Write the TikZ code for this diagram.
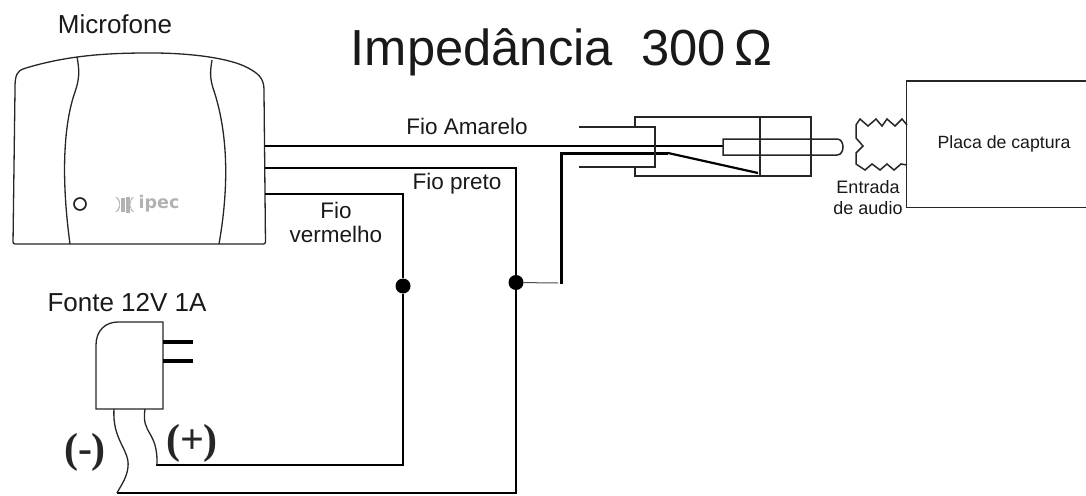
\documentclass[tikz,border=0pt]{standalone}
\usepackage{fontspec}
\setmainfont{Liberation Sans}
\newfontfamily\serifx{Liberation Serif}
\newfontfamily\logofont{DejaVu Sans}
\begin{document}
\begin{tikzpicture}[x=1pt,y=-1pt,
  thinw/.style={line width=1.3pt,black!85},
  wire/.style={line width=2.5pt,black},
  plug/.style={line width=1.5pt,black!85},
  lab/.style={inner sep=0,font=\fontsize{26}{29}\selectfont,text=black!90},
  wirelab/.style={inner sep=0,align=center,font=\fontsize{22.5}{24}\selectfont,text=black!90},
  small/.style={inner sep=0,font=\fontsize{18}{21}\selectfont,align=center,text=black!90},
  bigsym/.style={inner sep=0,font=\fontsize{42}{44}\selectfont\serifx\bfseries,text=black!85},
  dotn/.style={circle,fill=black,inner sep=0,minimum size=15pt},
  logobar/.style={fill=black!30}]
\useasboundingbox (0,0) rectangle (1086,495);
% microphone
\draw[thinw,rounded corners=2pt] (15,90) .. controls (15,75) and (17,71) .. (26,68)
  .. controls (70,55) and (110,53) .. (150,53)
  .. controls (190,53) and (230,58) .. (250,69)
  .. controls (260,75) and (264,80) .. (264,92)
  -- (265.5,244) -- (13,244) -- cycle;
\draw[thinw] (77,57) .. controls (80,72) and (79,80) .. (75,92)
  .. controls (65,120) and (60,170) .. (70,244);
\draw[thinw] (212,60) .. controls (210,72) and (210,78) .. (213,88)
  .. controls (224,120) and (232,170) .. (219,244);
\node[circle,draw,line width=1.7pt,black!85,minimum size=12pt,inner sep=0] (led) at (80,204) {};
\fill[logobar] (115,197) .. controls (121,201) and (121,208) .. (115,212) .. controls (119,212) and (120,209) .. (120,204.5) .. controls (120,200) and (119,197) .. (115,197);
\fill[logobar] (121,198) rectangle (125,212);
\fill[logobar] (126,197) rectangle (130,213);
\fill[logobar] (134,197) .. controls (129,201) and (129,208) .. (134,212) .. controls (131,212) and (130,209) .. (130,204.5) .. controls (130,200) and (131,197) .. (134,197);
\node[inner sep=0,text=black!30,font=\logofont\bfseries\fontsize{17.5}{19}\selectfont] (logo) at (159,204) {ipec};
% Titles
\node[lab] (mic) at (115,24) {Microfone};
\node[anchor=base,inner sep=0,font=\fontsize{50.7}{56}\selectfont,text=black!90] (title) at (561.5,65) {Impedância\ \ 300\,Ω};
\node[lab] (fonte) at (127,303) {Fonte 12V 1A};
\node[wirelab] (fa) at (467,126) {Fio Amarelo};
\node[wirelab] (fp) at (457,184) {Fio preto};
\node[wirelab] (fv) at (336,222) {Fio\\vermelho};
\node[small] (ent) at (868,198) {Entrada\\de audio};
% junctions
\node[dotn] (j1) at (403,286) {};
\node[dotn] (j2) at (516,282.5) {};
\coordinate (m1) at (265,146);
\coordinate (m2) at (265,168);
\coordinate (m3) at (265,194);
\coordinate (fm) at (117,493);
\coordinate (fp1) at (156,465);
% wires
\draw[wire] (m1) -- (723,146);
\draw[wire] (m2) -- (516,168) -- (j2) -- (516,493) -- (fm);
\draw[wire] (m3) -- (403,194) -- (j1) -- (403,465) -- (fp1);
\draw[line width=1pt,black!70] (j2) -- (558,283);
\draw[line width=3pt] (561,284) -- (561,153) -- (668,153);
\draw[line width=2.2pt] (668,153) -- (758,173);
% plug
\draw[plug] (635,127) -- (635,117) -- (811,117) -- (811,176) -- (635,176) -- (635,167);
\draw[plug] (760,117) -- (760,176);
\draw[plug] (579,127) -- (655,127) -- (655,167) -- (579,167);
\draw[plug] (723,155) -- (723,139) -- (837,139) .. controls (845,139) and (845,155) .. (837,155) -- cycle;
% capture board
\draw[plug] (1086,81) -- (906.5,81) -- (906.5,207.5) -- (1086,207.5);
\node[inner sep=0,font=\fontsize{17.7}{20}\selectfont,text=black!90] (pc) at (1004,144) {Placa de captura};
\draw[plug] (907,125) -- (902,119) -- (895,126) -- (887,119) -- (882,126) -- (876,119) -- (868,126) -- (860,119) -- (856,125) -- (856,138) -- (863,146) -- (856,153) -- (856,164) -- (865,170) -- (872,164) -- (880,170) -- (887,164) -- (894,170) -- (901,164) -- (907,165);
% power supply
\draw[thinw] (96,409) -- (96,345) .. controls (96,330) and (106,322) .. (118,322) -- (163,322) -- (163,409) -- cycle;
\draw[line width=4.5pt] (163,342) -- (193,342);
\draw[line width=4.5pt] (163,361) -- (193,361);
\draw[thinw] (114,409) .. controls (112,440) and (130,450) .. (128,467) .. controls (127,478) and (120,487) .. (117,493);
\draw[thinw] (145,409) .. controls (141,435) and (158,430) .. (157,465);
\node[bigsym] (neg) at (85,452) {(-)};
\node[bigsym] (pos) at (192,443) {(+)};
\end{tikzpicture}
\end{document}
